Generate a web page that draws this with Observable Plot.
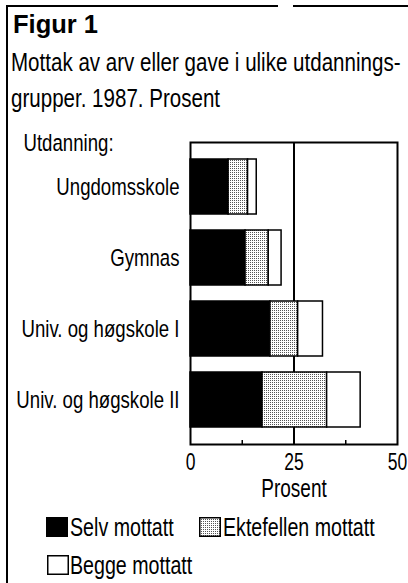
<!DOCTYPE html>
<html>
<head>
<meta charset="utf-8">
<script src="https://cdn.jsdelivr.net/npm/d3@7"></script>
<script src="https://cdn.jsdelivr.net/npm/@observablehq/plot@0.6"></script>
<style>
  html, body { margin: 0; padding: 0; background: white; }
  #page { position: relative; width: 408px; height: 583px; overflow: hidden; background: white;
          font-family: "Liberation Sans", Arial, sans-serif; color: black; }
  .abs { position: absolute; white-space: nowrap; }
  .narrow { transform: scaleX(0.77); transform-origin: 0 0; }
  #title { left: 13px; top: 12px; font-weight: bold; font-size: 25.5px; line-height: 25px; }
  #subtitle { left: 11px; top: 44px; font-size: 26.7px; line-height: 36px; }
  #chart { left: 0; top: 120px; }
  .leg { font-size: 25.5px; line-height: 25px; }
  .sw { position: absolute; }
</style>
</head>
<body>
<div id="page">
  <div class="abs" style="left:6px;top:5px;width:2px;height:578px;background:black"></div>
  <div class="abs" style="left:6px;top:5px;width:272px;height:2px;background:black"></div>
  <div class="abs" style="left:293px;top:5px;width:115px;height:2px;background:black"></div>
  <div id="title" class="abs">Figur 1</div>
  <div id="subtitle" class="abs narrow">Mottak av arv eller gave i ulike utdannings-<br>grupper. 1987. Prosent</div>
  <div id="chart" class="abs"></div>
  <div id="legend"></div>
</div>
<script>
const groups = ["Ungdomsskole", "Gymnas", "Univ. og høgskole I", "Univ. og høgskole II"];
const series = ["Selv mottatt", "Ektefellen mottatt", "Begge mottatt"];
const selv = [9.2, 13.3, 19.3, 17.4];
const ektefellen = [4.7, 5.6, 6.7, 15.6];
const begge = [2.1, 3.1, 6.0, 8.1];
const xTicks = [0, 25, 50];
const minorTicks = [12.5, 37.5];
const refLine = [25];
const yTitle = "Utdanning:";
const xTitle = "Prosent";
const fills = ["black", "url(#dots)", "white"];

const data = groups.flatMap((g, i) => [
  {group: g, series: series[0], value: selv[i]},
  {group: g, series: series[1], value: ektefellen[i]},
  {group: g, series: series[2], value: begge[i]}
]);

const font = '"Liberation Sans", Arial, sans-serif';
const NARROW = 0.76;

const chart = Plot.plot({
  width: 408,
  height: 380,
  marginTop: 22,
  marginBottom: 56,
  marginLeft: 190,
  marginRight: 11,
  style: {fontFamily: font, fontSize: "24px", color: "black", background: "transparent", overflow: "visible"},
  x: {domain: [0, 50]},
  y: {domain: groups, padding: 0.23},
  color: {domain: series, range: fills},
  marks: [
    Plot.ruleX(refLine, {stroke: "black", strokeWidth: 2}),
    Plot.barX(data, Plot.stackX({x: "value", y: "group", fill: "series", stroke: "black", strokeWidth: 1.5})),
    Plot.tickX(minorTicks, {x: d => d, insetTop: 298, stroke: "black", strokeWidth: 1.5}),
    Plot.frame({stroke: "black", strokeWidth: 2}),
    Plot.axisX(xTicks, {tickSize: 0, tickPadding: 9, label: null, fontSize: 23}),
    Plot.axisY({tickSize: 0, tickPadding: 11, label: null, fontSize: 24.5}),
    Plot.text([xTitle], {frameAnchor: "bottom", lineAnchor: "top", dy: 35, fontSize: 25}),
    Plot.text([yTitle], {frameAnchor: "top-left", textAnchor: "start", lineAnchor: "top", dx: -167, dy: -9, fontSize: 24.5})
  ]
});

const defs = document.createElementNS("http://www.w3.org/2000/svg", "defs");
defs.innerHTML = '<pattern id="dots" width="2" height="2" patternUnits="userSpaceOnUse"><rect width="2" height="2" fill="white"/><rect width="1" height="1" fill="#555"/></pattern>';
chart.prepend(defs);
document.getElementById("chart").appendChild(chart);

// condense svg text horizontally (Helvetica Narrow look)
chart.querySelectorAll("text").forEach(t => {
  const len = t.getComputedTextLength();
  if (len > 0) {
    t.setAttribute("textLength", (len * NARROW).toFixed(2));
    t.setAttribute("lengthAdjust", "spacingAndGlyphs");
  }
});

// legend
const legend = document.getElementById("legend");
const items = [
  {label: series[0], fill: fills[0], sx: 46, sy: 517, tx: 70},
  {label: series[1], fill: fills[1], sx: 199, sy: 517, tx: 223},
  {label: series[2], fill: fills[2], sx: 47, sy: 555, tx: 70}
];
items.forEach(it => {
  const sw = document.createElementNS("http://www.w3.org/2000/svg", "svg");
  sw.setAttribute("width", 22); sw.setAttribute("height", 20);
  sw.setAttribute("class", "sw");
  sw.style.left = it.sx + "px"; sw.style.top = it.sy + "px";
  sw.innerHTML = '<defs><pattern id="dotsL' + it.sx + '" width="2" height="2" patternUnits="userSpaceOnUse"><rect width="2" height="2" fill="white"/><rect width="1" height="1" fill="#555"/></pattern></defs>' +
    '<rect x="0.75" y="0.75" width="20.5" height="18.5" stroke="black" stroke-width="1.5" fill="' +
    (it.fill.startsWith("url") ? "url(#dotsL" + it.sx + ")" : it.fill) + '"/>';
  legend.appendChild(sw);
  const t = document.createElement("div");
  t.className = "abs leg narrow";
  t.textContent = it.label;
  t.style.left = it.tx + "px";
  t.style.top = (it.sy - 2) + "px";
  legend.appendChild(t);
});
</script>
</body>
</html>
